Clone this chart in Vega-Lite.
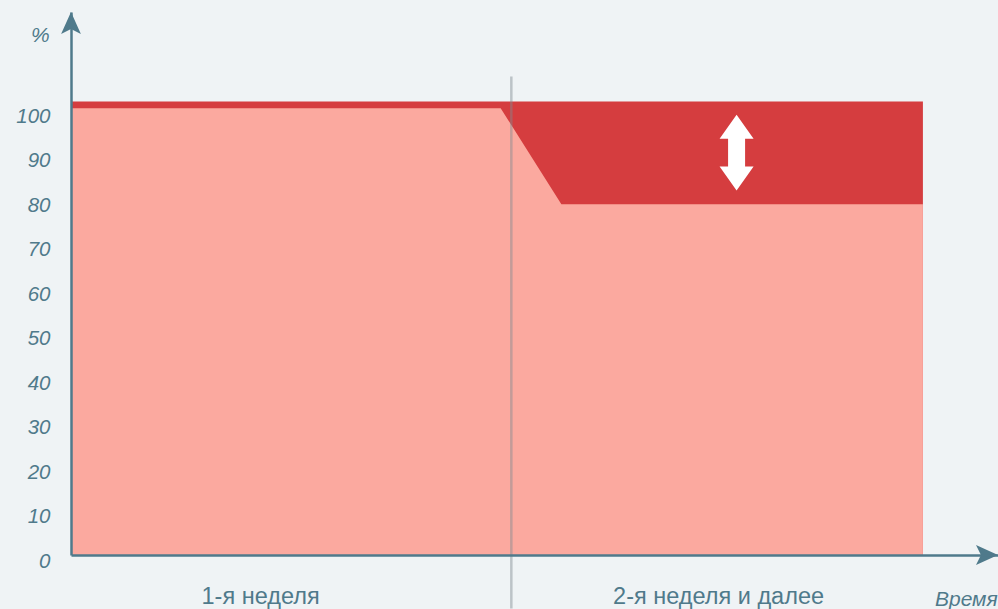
{
  "$schema": "https://vega.github.io/schema/vega-lite/v6.json",
  "width": 927,
  "height": 543,
  "autosize": {"type": "none"},
  "padding": {"left": 71, "top": 12, "right": 0, "bottom": 54},
  "background": "#eff3f5",
  "config": {
    "view": {"stroke": null},
    "font": "Liberation Sans"
  },
  "layer": [
    {
      "data": {"values": [{"t": 0, "v": 101.9}, {"t": 9.19, "v": 101.9}]},
      "mark": {"type": "area", "color": "#d53d3f", "opacity": 1},
      "encoding": {
        "x": {
          "field": "t", "type": "quantitative",
          "scale": {"domain": [0, 10], "nice": false, "zero": false},
          "axis": {
            "values": [2.04, 6.98],
            "labelExpr": "datum.value < 5 ? '1-я неделя' : '2-я неделя и далее'",
            "title": null, "grid": false, "ticks": false, "tickSize": 0,
            "labelPadding": 48, "labelBaseline": "alphabetic", "labelLimit": 500,
            "labelFontSize": 23.5, "labelColor": "#4f7a8b", "labelFont": "Liberation Sans",
            "labelFlush": false, "labelOverlap": false,
            "domainColor": "#4f7a8b", "domainWidth": 2.5, "zindex": 1
          }
        },
        "y": {
          "field": "v", "type": "quantitative",
          "scale": {"domain": [0, 122], "nice": false, "zero": false},
          "axis": {
            "values": [0, 10, 20, 30, 40, 50, 60, 70, 80, 90, 100],
            "title": null, "grid": false, "ticks": false, "tickSize": 0,
            "labelPadding": 21, "labelOffset": 6.5,
            "labelFontSize": 20.5, "labelFontStyle": "italic", "labelColor": "#4f7a8b",
            "labelFont": "Liberation Sans",
            "domainColor": "#4f7a8b", "domainWidth": 2.5, "zindex": 1
          }
        },
        "y2": {"datum": 0}
      }
    },
    {
      "data": {"values": [{"t": 0, "v": 100.4}, {"t": 4.635, "v": 100.4}, {"t": 5.29, "v": 78.8}, {"t": 9.19, "v": 78.8}]},
      "mark": {"type": "area", "color": "#fba99f", "opacity": 1},
      "encoding": {
        "x": {"field": "t", "type": "quantitative"},
        "y": {"field": "v", "type": "quantitative"},
        "y2": {"datum": 0}
      }
    },
    {
      "data": {"values": [{"t": 4.75, "v": 107.5, "v2": -12}]},
      "mark": {"type": "rule", "color": "#7f8a90", "opacity": 0.45, "strokeWidth": 2.5},
      "encoding": {
        "x": {"field": "t", "type": "quantitative"},
        "y": {"field": "v", "type": "quantitative"},
        "y2": {"field": "v2"}
      }
    },
    {
      "data": {"values": [{"t": 7.18, "v": 90.4}]},
      "mark": {
        "type": "point", "filled": true, "color": "#ffffff", "opacity": 1, "size": 400,
        "shape": "M0,-3.785L1.7,-1.385L0.85,-1.385L0.85,1.385L1.7,1.385L0,3.785L-1.7,1.385L-0.85,1.385L-0.85,-1.385L-1.7,-1.385Z"
      },
      "encoding": {
        "x": {"field": "t", "type": "quantitative"},
        "y": {"field": "v", "type": "quantitative"}
      }
    },
    {
      "data": {"values": [{"t": 0, "v": 122}]},
      "mark": {
        "type": "point", "filled": true, "color": "#4f7a8b", "opacity": 1, "size": 484,
        "shape": "M0,0L0.9,2L0,1.55L-0.9,2Z"
      },
      "encoding": {
        "x": {"field": "t", "type": "quantitative"},
        "y": {"field": "v", "type": "quantitative"}
      }
    },
    {
      "data": {"values": [{"t": 10, "v": 0}]},
      "mark": {
        "type": "point", "filled": true, "color": "#4f7a8b", "opacity": 1, "size": 484,
        "shape": "M0,0L-2,-0.9L-1.55,0L-2,0.9Z"
      },
      "encoding": {
        "x": {"field": "t", "type": "quantitative"},
        "y": {"field": "v", "type": "quantitative"}
      }
    },
    {
      "data": {"values": [{"t": -0.33, "v": 116.5, "label": "%"}]},
      "mark": {"type": "text", "fontSize": 21, "fontStyle": "italic", "color": "#4f7a8b", "align": "center", "baseline": "middle", "font": "Liberation Sans"},
      "encoding": {
        "x": {"field": "t", "type": "quantitative"},
        "y": {"field": "v", "type": "quantitative"},
        "text": {"field": "label"}
      }
    },
    {
      "data": {"values": [{"t": 9.32, "v": -11.46, "label": "Время"}]},
      "mark": {"type": "text", "fontSize": 21, "fontStyle": "italic", "color": "#4f7a8b", "align": "left", "baseline": "alphabetic", "font": "Liberation Sans"},
      "encoding": {
        "x": {"field": "t", "type": "quantitative"},
        "y": {"field": "v", "type": "quantitative"},
        "text": {"field": "label"}
      }
    }
  ]
}
